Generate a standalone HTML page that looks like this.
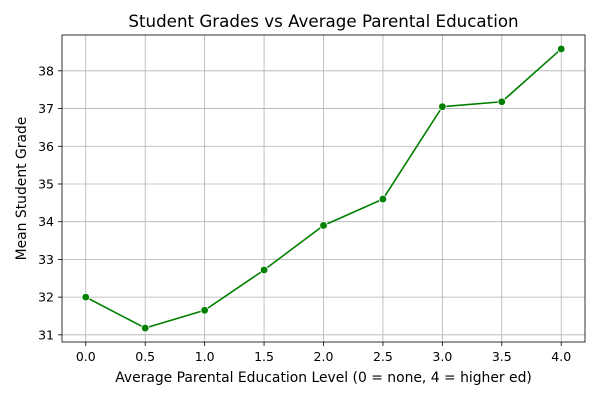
<!DOCTYPE html>
<html><head><meta charset="utf-8"><style>
body{margin:0;background:#fff;font-family:"DejaVu Sans","Liberation Sans",sans-serif}
svg text{font-family:"DejaVu Sans","Liberation Sans",sans-serif}
</style></head><body>
<svg id="chart" width="600" height="400" xmlns="http://www.w3.org/2000/svg">
<rect width="600" height="400" fill="#fff"/>
<text x="323.5" y="27" text-anchor="middle" font-size="16.7" fill="#000">Student Grades vs Average Parental Education</text>
<g id="grid"></g>
<g id="axes"></g>
<g id="series"></g>
<text x="323.5" y="382" text-anchor="middle" font-size="13.9">Average Parental Education Level (0 = none, 4 = higher ed)</text>
<text transform="translate(26,188.5) rotate(-90)" text-anchor="middle" font-size="13.9">Mean Student Grade</text>
</svg>
<script>
const xValues=[0,0.5,1,1.5,2,2.5,3,3.5,4];
const grades=[32.0,31.18,31.65,32.72,33.9,34.6,37.05,37.18,38.58];
const xTicks=[0,0.5,1,1.5,2,2.5,3,3.5,4];
const xTickLabels=["0.0","0.5","1.0","1.5","2.0","2.5","3.0","3.5","4.0"];
const yTicks=[31,32,33,34,35,36,37,38];

const L=62,R=585,T=35,B=342;
const xMin=-0.2,xMax=4.2,yMin=30.81,yMax=38.95;
const sx=v=>L+(v-xMin)/(xMax-xMin)*(R-L);
const sy=v=>B-(v-yMin)/(yMax-yMin)*(B-T);
const NS="http://www.w3.org/2000/svg";
function mk(tag,attrs,parent){const e=document.createElementNS(NS,tag);for(const k in attrs)e.setAttribute(k,attrs[k]);parent.appendChild(e);return e;}
const grid=document.getElementById('grid'),axes=document.getElementById('axes'),ser=document.getElementById('series');
xTicks.forEach((t,i)=>{
  const x=sx(t);
  const g=mk('line',{x1:x,x2:x,y1:T,y2:B,stroke:'#b0b0b0','stroke-width':0.8},grid);
  
  
  mk('line',{x1:x,x2:x,y1:B,y2:B+4,stroke:'#000','stroke-width':0.8},axes);
  const tx=mk('text',{x:x,y:B+19,'text-anchor':'middle','font-size':12.5},axes);
  tx.textContent=xTickLabels[i];
  
  
});
yTicks.forEach(t=>{
  const y=sy(t);
  const g=mk('line',{x1:L,x2:R,y1:y,y2:y,stroke:'#b0b0b0','stroke-width':0.8},grid);
  
  
  mk('line',{x1:L-4,x2:L,y1:y,y2:y,stroke:'#000','stroke-width':0.8},axes);
  const tx=mk('text',{x:L-8,y:y+4.5,'text-anchor':'end','font-size':12.5},axes);
  tx.textContent=String(t);
  
  
});
const frame=mk('rect',{x:L,y:T,width:R-L,height:B-T,fill:'none',stroke:'#000','stroke-width':0.8},axes);


const pts=xValues.map((v,i)=>sx(v)+','+sy(grades[i])).join(' ');
const line=mk('polyline',{points:pts,fill:'none',stroke:'#008000','stroke-width':1.6},ser);


xValues.forEach((v,i)=>{
  const c=mk('circle',{cx:sx(v),cy:sy(grades[i]),r:3.8,fill:'#008000',stroke:'#fff','stroke-width':0.8},ser);
  
  
});
</script>
</body></html>
